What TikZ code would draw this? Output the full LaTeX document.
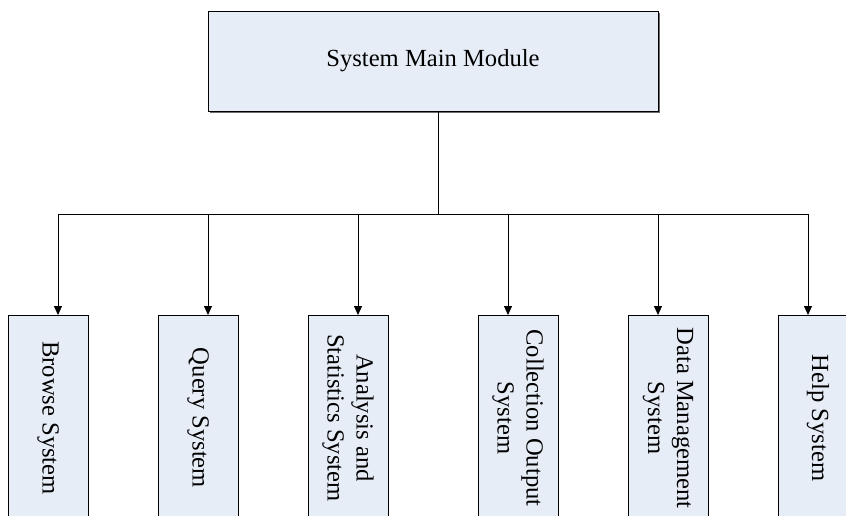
\documentclass[tikz,border=0pt]{standalone}
\usepackage{fontspec}
\setmainfont{Liberation Serif}
\usetikzlibrary{arrows.meta,shadows}

\definecolor{boxfill}{RGB}{231,237,247}

\begin{document}
\begin{tikzpicture}[
  x=1pt, y=-1pt,
  every node/.style={font=\fontsize{24.6}{29}\selectfont},
  box/.style={draw=black, line width=0.9pt, fill=boxfill, inner sep=0pt},
  mainbox/.style={box, minimum width=450pt, minimum height=100pt,
    drop shadow={shadow xshift=1.6pt, shadow yshift=-1.6pt, fill=gray!85!black, opacity=1}},
  subbox/.style={box, minimum width=80pt, minimum height=206pt},
  label/.style={rotate=-90, align=center, inner sep=0pt},
  link/.style={draw=black, line width=0.9pt},
  arrowlink/.style={link, -{Triangle[width=8pt,length=9pt]}}
]
\useasboundingbox (0,0) rectangle (846,515);
\clip (0,0) rectangle (846,515);

% top level module
\node[mainbox] (main) at (433,61) {System Main Module};

% subsystems
\node[subbox] (s1) at (48,418)  {};
\node[subbox] (s2) at (198,418) {};
\node[subbox] (s3) at (348,418) {};
\node[subbox] (s4) at (518,418) {};
\node[subbox] (s5) at (668,418) {};
\node[subbox] (s6) at (818,418) {};

\node[label] (t1) at (s1) {Browse System};
\node[label] (t2) at (s2) {Query System};
\node[label] (t3) at (s3) {Analysis and\\Statistics System};
\node[label] (t4) at (s4) {Collection Output\\System};
\node[label] (t5) at (s5) {Data Management\\System};
\node[label] (t6) at (s6) {Help System};

% distribution bus
\coordinate (hub) at (438,214);
\draw[link] (main.south -| hub) -- (hub);
\coordinate (a1) at (58,315);
\coordinate (a2) at (208,315);
\coordinate (a3) at (358,315);
\coordinate (a4) at (508,315);
\coordinate (a5) at (658,315);
\coordinate (a6) at (808,315);
\foreach \i in {1,...,6} {
  \draw[arrowlink] (hub) -| (a\i);
}
\end{tikzpicture}
\end{document}
